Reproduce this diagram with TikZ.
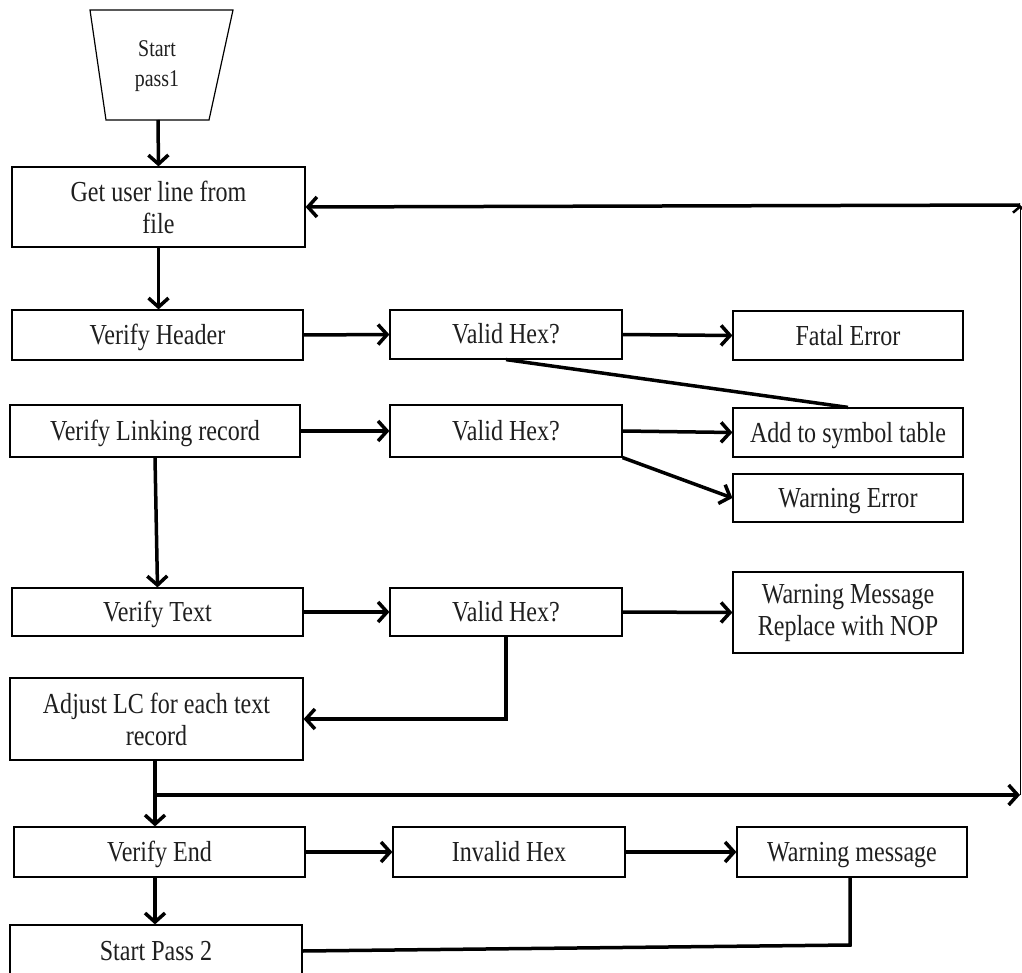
\documentclass[tikz,border=0pt]{standalone}
\usepackage{fontspec}
\setmainfont{Liberation Serif}[FakeStretch=0.83]
\usetikzlibrary{arrows.meta}
\begin{document}
\begin{tikzpicture}[x=1pt,y=-1pt,
  every node/.style={font=\fontsize{29}{32}\selectfont, text=black!88},
  box/.style={draw, line width=1.2pt, fill=white, align=center, inner sep=0pt},
  onebox/.style={box, text height=20pt, text depth=1pt},
  flow/.style={line width=3.5pt, -{Straight Barb[length=9pt,width=20pt]}},
  link/.style={line width=3.5pt},
  thinflow/.style={line width=1pt, -{Straight Barb[length=6pt,width=14pt,line width=2.5pt]}}]
\useasboundingbox (0,0) rectangle (1022,973);

% entry trapezoid
\draw[line width=1.2pt] (90,10) -- (233,10) -- (209,120) -- (106,120) -- cycle;
\node[align=center, font=\fontsize{24}{30}\selectfont] (start) at (157,66) {Start\\pass1};
\coordinate (startbot) at (158,120);

% process boxes
\node[box, minimum width=293, minimum height=80] (get) at (158.5,207) {Get user line from\\file};
\node[onebox, minimum width=291, minimum height=50] (vhdr) at (157.5,335) {Verify Header};
\node[onebox, minimum width=232, minimum height=49] (hex1) at (506,334.5) {Valid Hex?};
\node[onebox, minimum width=230, minimum height=49] (fatal) at (848,335.5) {Fatal Error};

\node[onebox, minimum width=290, minimum height=52] (vlink) at (155,431) {Verify Linking record};
\node[onebox, minimum width=232, minimum height=52] (hex2) at (506,431) {Valid Hex?};
\node[onebox, minimum width=230, minimum height=49] (symtab) at (848,432.5) {Add to symbol table};
\node[onebox, minimum width=230, minimum height=48] (warnerr) at (848,498) {Warning Error};

\node[onebox, minimum width=291, minimum height=48] (vtext) at (157.5,612) {Verify Text};
\node[onebox, minimum width=232, minimum height=48] (hex3) at (506,612) {Valid Hex?};
\node[box, minimum width=230, minimum height=81] (warnmsg) at (848,612.5) {Warning Message\\Replace with NOP};

\node[box, minimum width=293, minimum height=82] (adjust) at (156.5,719) {Adjust LC for each text\\record};

\node[onebox, minimum width=291, minimum height=50] (vend) at (159.5,852) {Verify End};
\node[onebox, minimum width=232, minimum height=50] (invhex) at (509,852) {Invalid Hex};
\node[onebox, minimum width=230, minimum height=50] (warnm2) at (852,852) {Warning message};

\node[onebox, minimum width=292, minimum height=52] (pass2) at (156,951) {Start Pass 2};

% main flow
\draw[flow] (startbot) -- (get.north);
\draw[flow] (get.south) -- (vhdr.north -| get.south);
\draw[flow] (vhdr.east) -- (hex1.west);
\draw[flow] (hex1.east) -- (fatal.west);
\draw[link] (hex1.south) -- (symtab.north);

\draw[flow] (vlink.east) -- (hex2.west);
\draw[flow] (hex2.east) -- (symtab.west);
\draw[flow] (hex2.south east) -- (warnerr.west);
\draw[flow] (vlink.south) -- (vtext.north);

\draw[flow] (vtext.east) -- (hex3.west);
\draw[flow] (hex3.east) -- (warnmsg.west);
\draw[flow] (hex3.south) -- (hex3.south |- adjust.east) -- (adjust.east);

% loop back to the next line
\coordinate (split) at (155,795);
\coordinate (rb) at (1020,795);
\coordinate (rt) at (1020,205);
\draw[flow] (adjust.south -| split) -- (split |- vend.north);
\draw[flow] (split) -- (rb);
\draw[thinflow] (rb) -- (rt);
\draw[flow] (rt) -- (get.east);

% end record
\draw[flow] (vend.east) -- (invhex.west);
\draw[flow] (invhex.east) -- (warnm2.west);
\draw[flow] (vend.south -| split) -- (pass2.north -| split);
\coordinate (wcorner) at (850,945);
\draw[link] (warnm2.south -| wcorner) -- (wcorner) -- (pass2.east);
\end{tikzpicture}
\end{document}
